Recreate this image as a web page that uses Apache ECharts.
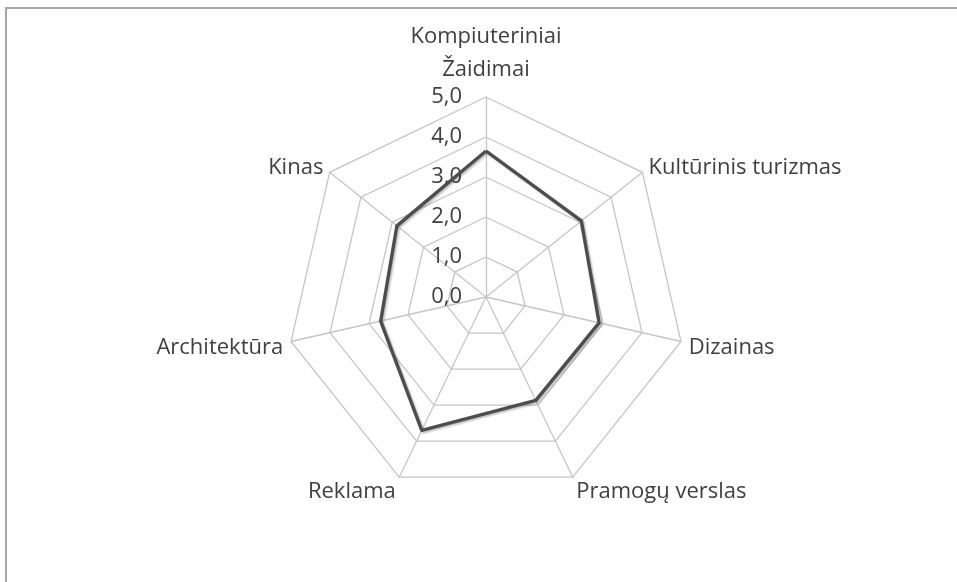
<!DOCTYPE html>
<html>
<head>
<meta charset="utf-8">
<script src="https://cdn.jsdelivr.net/npm/echarts@6/dist/echarts.min.js"></script>
<style>
  html, body { margin: 0; padding: 0; background: #fff; }
  #chart { width: 957px; height: 582px; position: relative; }
  #frame {
    position: absolute; left: 5px; top: 7px; right: 0; bottom: 0;
    border-top: 2px solid #a6a6a6; border-left: 2px solid #a6a6a6;
    pointer-events: none;
  }
</style>
</head>
<body>
<div id="chart"></div>
<div id="frame"></div>
<script>
// categories clockwise from the top, as in the picture
const categories = [
  "Kompiuteriniai\nŽaidimai",
  "Kultūrinis turizmas",
  "Dizainas",
  "Pramogų verslas",
  "Reklama",
  "Architektūra",
  "Kinas",
];
const values = [3.65, 3.05, 2.9, 2.87, 3.7, 2.7, 2.85];
const axisMax = 5;
const tickCount = 5;

const chart = echarts.init(document.getElementById("chart"));

const fmt = (v) => v.toFixed(1).replace(".", ",");

// ECharts lays radar indicators out counter-clockwise; flip to clockwise
const order = [0].concat(categories.map((_, i) => i).slice(1).reverse());
const ccwNames = order.map((i) => categories[i]);
const ccwValues = order.map((i) => values[i]);

// nudge names down a bit on the lower half (like the original)
function nameStyle(name) {
  const i = categories.indexOf(name);
  if (i === 0) return name;
  const ang = (i * 2 * Math.PI) / categories.length;
  const c = Math.cos(ang);
  if (c < -0.5) return "{low|" + name + "}";
  if (c < 0) return "{mid|" + name + "}";
  return "{up|" + name + "}";
}

const txt = "#404040";
const font = "Open Sans";

const option = {
  animation: false,
  textStyle: { fontFamily: font },
  radar: {
    center: [486, 297],
    radius: 200,
    startAngle: 90,
    shape: "polygon",
    splitNumber: tickCount,
    axisName: {
      color: txt,
      fontFamily: font,
      fontSize: 22,
      lineHeight: 33,
      formatter: nameStyle,
      rich: {
        up: { fontSize: 22, fontFamily: font, color: txt },
        mid: { fontSize: 22, fontFamily: font, color: txt, padding: [8, 0, 0, 0] },
        low: { fontSize: 22, fontFamily: font, color: txt, padding: [15, 0, 0, 0] },
      },
    },
    nameGap: 8,
    splitLine: { lineStyle: { color: "#c6c6c6", width: 1.3 } },
    splitArea: { show: false },
    axisLine: { lineStyle: { color: "#c6c6c6", width: 1.3 } },
    axisTick: { show: false },
    axisLabel: { show: false },
    indicator: ccwNames.map((name, i) => {
      const ind = { name: name, min: 0, max: axisMax };
      if (i === 0) {
        ind.axisLabel = {
          show: true,
          color: txt,
          fontFamily: font,
          fontSize: 22,
          margin: 24,
          padding: [6, 0, 0, 0],
          formatter: fmt,
        };
      }
      return ind;
    }),
  },
  series: [
    {
      type: "radar",
      symbol: "none",
      lineStyle: {
        color: "#4d4d4d",
        width: 3.4,
        shadowColor: "rgba(0,0,0,0.25)",
        shadowBlur: 2,
        shadowOffsetX: 1.5,
        shadowOffsetY: 1.5,
      },
      data: [{ value: ccwValues, name: "Vertinimas" }],
    },
  ],
};

chart.setOption(option);
</script>
</body>
</html>
